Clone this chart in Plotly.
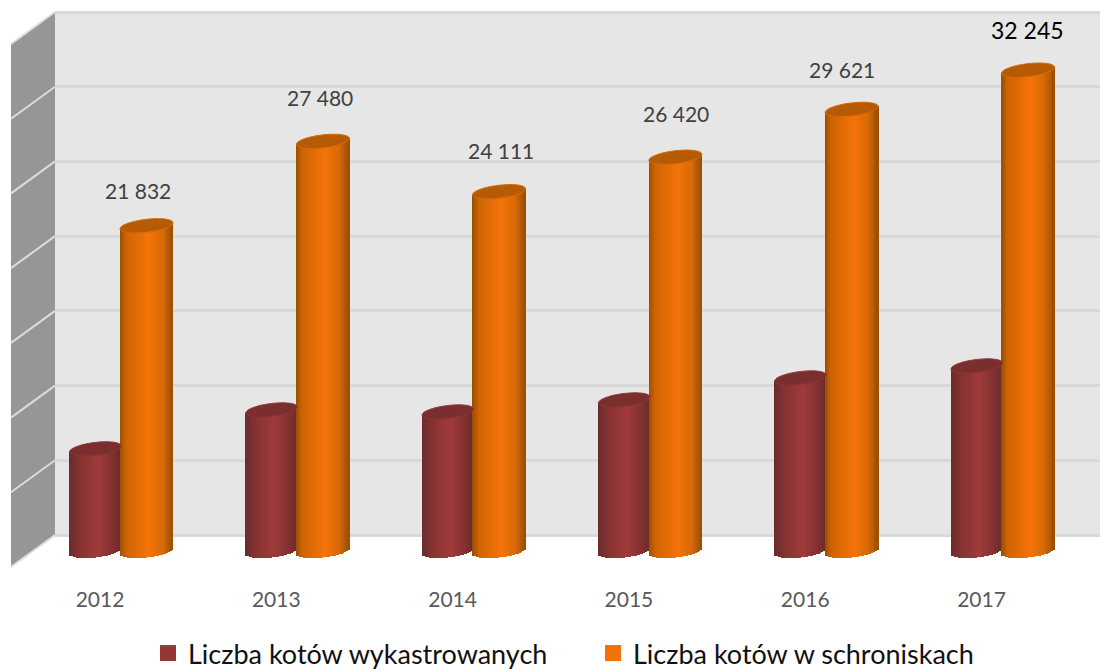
import numpy as np
import plotly.graph_objects as go

# ---- data ----
years = [2012, 2013, 2014, 2015, 2016, 2017]
wykastrowane = [6900, 9505, 9370, 10175, 11645, 12450]
schroniska = [21832, 27480, 24111, 26420, 29621, 32245]
labels_schroniska = ["21 832", "27 480", "24 111", "26 420", "29 621", "32 245"]
name_a = "Liczba kotów wykastrowanych"
name_b = "Liczba kotów w schroniskach"

# ---- layout geometry ----
W, H = 1100, 671
WALL_L, WALL_T, WALL_B, SIDE_L = 55, 12, 535, 11
PLOT_T, PLOT_B = 9, 571
PX_PER_YEAR = 176.3
TICK0_PX = 100
PX_PER_UNIT = 523 / 35000
FLOOR_VALUE = 1138
x_lo = years[0] + (WALL_L - TICK0_PX) / PX_PER_YEAR
x_hi = years[0] + (W - TICK0_PX) / PX_PER_YEAR
y_lo = FLOOR_VALUE - (PLOT_B - WALL_B) / PX_PER_UNIT
y_hi = FLOOR_VALUE + 35000 + (WALL_T - PLOT_T) / PX_PER_UNIT
TILT, MINOR = 3.0, 6.5   # px
N = 30

def shade(stops, t):
    ps = [s[0] for s in stops]
    c = [np.interp(t, ps, [s[1][k] for s in stops]) for k in range(3)]
    return "rgb(%d,%d,%d)" % tuple(int(round(v)) for v in c)

stops_a = [(0, (108, 42, 42)), (0.2, (134, 50, 50)), (0.55, (160, 58, 58)), (0.8, (134, 50, 50)), (1, (108, 42, 42))]
stops_b = [(0, (150, 78, 2)), (0.12, (205, 100, 4)), (0.55, (245, 115, 8)), (0.82, (215, 105, 6)), (1, (150, 78, 2))]

def cylinder(values, left_px, width_px, stops, top_color, rim_color):
    """Draw a shaded cylinder per value with narrow bar strips and an elliptical lid."""
    sw = width_px / N
    traces = []
    for i in range(N):
        t = (i + 0.5) / N
        u = 2 * t - 1
        curve = MINOR * np.sqrt(1 - u * u)
        center = (left_px + (i + 0.5) * sw) / PX_PER_YEAR
        base = (TILT * u - curve) / PX_PER_UNIT + 70
        top = [v + TILT * u / PX_PER_UNIT for v in values]
        traces.append(go.Bar(
            x=[y + center for y in years],
            y=[tv - base for tv in top],
            base=[base] * len(values),
            width=(sw + 0.7) / PX_PER_YEAR,
            marker=dict(color=shade(stops, t), line=dict(width=0)),
            showlegend=False, hoverinfo="skip",
        ))
    shapes = []
    us = np.linspace(0, 2 * np.pi, 49)
    for yr, v in zip(years, values):
        pts = []
        for a in us:
            u = np.cos(a)
            px = (left_px + (u + 1) / 2 * width_px) / PX_PER_YEAR
            dy = TILT * u + MINOR * np.sin(a)
            pts.append((yr + px, v + dy / PX_PER_UNIT))
        path = "M " + " L ".join(f"{a:.4f} {b:.1f}" for a, b in pts) + " Z"
        shapes.append(dict(type="path", xref="x", yref="y", path=path,
                           fillcolor=top_color, line=dict(color=rim_color, width=1)))
    return traces, shapes

fig = go.Figure()
tr_a, sh_a = cylinder(wykastrowane, -30.5, 51.5, stops_a, "#7a2e2e", "#8f3535")
tr_b, sh_b = cylinder(schroniska, 20, 53, stops_b, "#b65b04", "#d96a05")
fig.add_traces(tr_a + tr_b)

# legend entries
fig.add_trace(go.Scatter(x=[None], y=[None], mode="markers", name=name_a,
                         marker=dict(symbol="square", size=17, color="#953735")))
fig.add_trace(go.Scatter(x=[None], y=[None], mode="markers", name=name_b,
                         marker=dict(symbol="square", size=17, color="#F27205")))

# walls (paper coordinates)
def px(x, y):
    return f"{x / W:.5f} {1 - y / H:.5f}"

back = dict(type="rect", xref="paper", yref="paper", layer="below",
            x0=WALL_L / W, x1=1, y0=1 - WALL_B / H, y1=1 - WALL_T / H,
            fillcolor="#e6e6e6", line=dict(width=0))
wall = dict(type="path", xref="paper", yref="paper", layer="below",
            path=f"M {px(SIDE_L, 44)} L {px(WALL_L, WALL_T)} L {px(WALL_L, WALL_B)} L {px(SIDE_L, 566)} Z",
            fillcolor="#969696", line=dict(width=0))
side_lines = []
n_grid = 8
for k in range(n_grid):
    yb = WALL_B - k * (WALL_B - WALL_T) / (n_grid - 1)
    side_lines.append(dict(type="line", xref="paper", yref="paper", layer="below",
                           x0=SIDE_L / W, x1=WALL_L / W,
                           y0=1 - (yb + 32) / H, y1=1 - yb / H,
                           line=dict(color="#dcdcdc", width=2)))

annotations = []
label_dx = [-9, -3, 2, 1, -10, -1]
label_dy = [35, 44, 41, 44, 40, 40]
label_size = [21, 21, 21, 21, 21, 23]
for i, (yr, v, s) in enumerate(zip(years, schroniska, labels_schroniska)):
    annotations.append(dict(
        x=yr + 46.5 / PX_PER_YEAR, y=v, xref="x", yref="y", text=s, showarrow=False,
        xshift=label_dx[i], yshift=label_dy[i], xanchor="center", yanchor="middle",
        font=dict(family="Lato", size=label_size[i], color="#000000" if i == 5 else "#404040"),
    ))

fig.update_layout(
    width=W, height=H, autosize=False,
    margin=dict(l=0, r=0, t=0, b=0, autoexpand=False),
    paper_bgcolor="white", plot_bgcolor="white",
    barmode="overlay", bargap=0,
    hovermode=False,
    shapes=[back, wall] + side_lines + sh_a + sh_b,
    annotations=annotations,
    xaxis=dict(domain=[WALL_L / W, 1], range=[x_lo, x_hi], tickmode="array", tickvals=years,
               ticktext=[str(y) for y in years], showgrid=False, zeroline=False, ticks="",
               tickfont=dict(family="Lato", size=21, color="#595959"), ticklabelstandoff=14,
               automargin=False),
    yaxis=dict(domain=[1 - PLOT_B / H, 1 - PLOT_T / H], range=[y_lo, y_hi],
               tick0=FLOOR_VALUE, dtick=5000, tickmode="linear", showticklabels=False,
               showgrid=True, gridcolor="#d9d9d9", gridwidth=2.5, zeroline=False, ticks="",
               automargin=False),
    legend=dict(orientation="h", x=148 / W, xanchor="left", xref="container", yref="container",
                y=1 - 629 / H, yanchor="top",
                font=dict(family="Lato", size=27, color="#111111"),
                entrywidth=400, entrywidthmode="pixels", bgcolor="rgba(0,0,0,0)",
                itemsizing="trace", tracegroupgap=0),
    font=dict(family="Lato"),
)
fig.write_html("out.html", post_script="document.body.style.margin='0';",
               config={"displayModeBar": False})
